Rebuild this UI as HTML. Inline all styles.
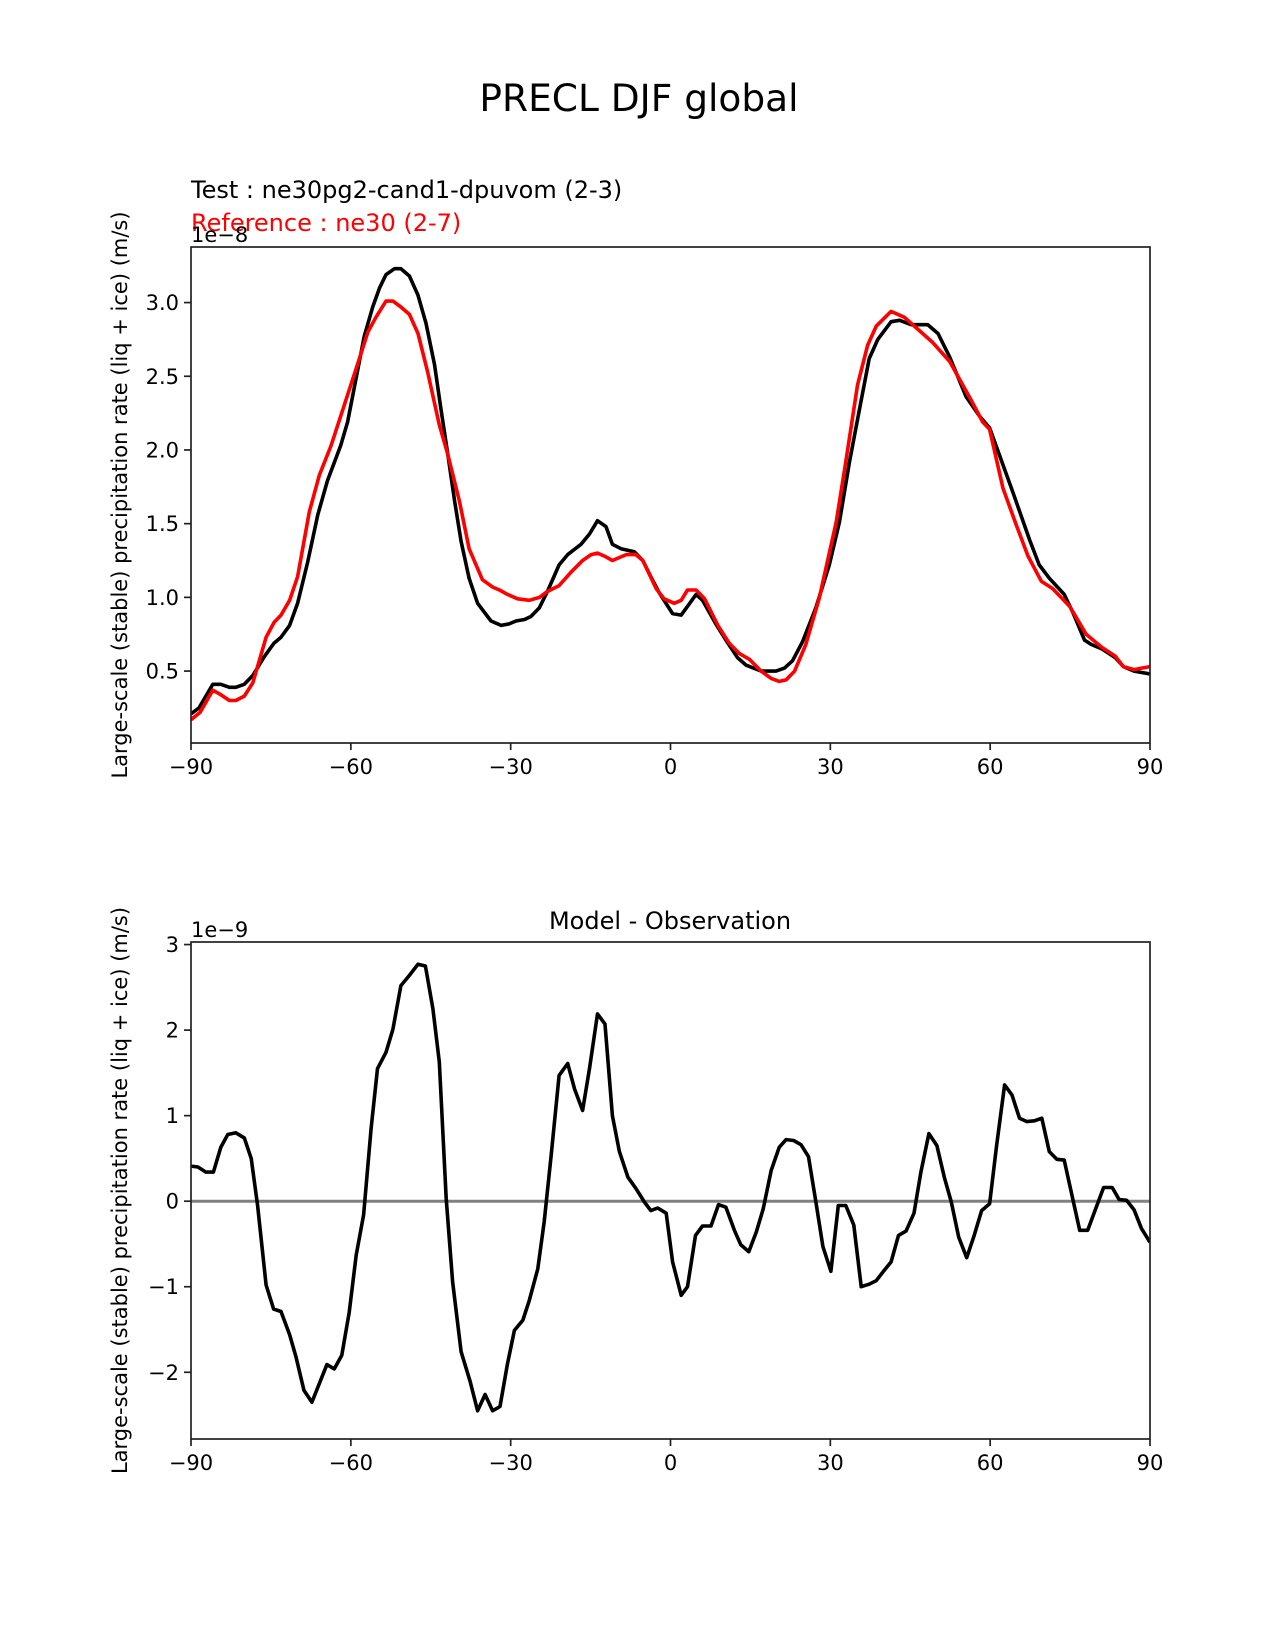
<!DOCTYPE html>
<html><head><meta charset="utf-8"><style>
html,body{margin:0;padding:0;background:#fff;}
svg{display:block;font-family:"DejaVu Sans","Liberation Sans",sans-serif;}
</style></head><body>
<svg id="fig" width="1275" height="1650" viewBox="0 0 1275 1650" xmlns="http://www.w3.org/2000/svg">
<rect width="1275" height="1650" fill="#fff"/>
<text x="639" y="111" font-size="37.5" text-anchor="middle">PRECL DJF global</text>
<text x="191" y="198" font-size="24">Test : ne30pg2-cand1-dpuvom (2-3)</text>
<text x="191" y="231" font-size="24" fill="#ff0000">Reference : ne30 (2-7)</text>
<text x="670" y="929" font-size="24" text-anchor="middle">Model - Observation</text>
<g id="top"></g>
<g id="bot"></g>
</svg>
<script>
const xTicks = [-90,-60,-30,0,30,60,90];
const topYTicks = [0.5,1.0,1.5,2.0,2.5,3.0];
const botYTicks = [-2,-1,0,1,2,3];
const testLat = [-90,-88.5,-85.9,-84.4,-82.8,-81.6,-80,-78.4,-76.2,-74.4,-73.1,-71.5,-70,-68.1,-66.2,-64.4,-61.9,-60.6,-59,-57.5,-55.9,-54.6,-53.4,-51.8,-50.6,-49,-47.4,-45.9,-44.3,-43.1,-41.8,-40.5,-39.3,-37.8,-36.2,-33.7,-31.8,-30.3,-29,-27.4,-26.2,-24.6,-23.1,-20.9,-19.3,-16.8,-15.2,-13.7,-12.1,-10.9,-9.3,-6.8,-5.2,-3.7,-2.1,0.4,2,4.8,6,8.5,10.4,12.6,14.2,17,19.8,21.4,22.9,24.8,27.3,29.8,31.7,33.6,35.5,37.3,38.9,41.4,43,45.2,48.3,50.2,52.4,55.5,58,59.9,61.7,64.2,67.4,69.2,71.1,73.9,75.5,77.7,79,81,83.5,85,87,90];
const testVal = [0.21,0.25,0.41,0.41,0.39,0.39,0.41,0.47,0.6,0.69,0.73,0.81,0.96,1.24,1.56,1.79,2.03,2.19,2.49,2.77,2.97,3.1,3.19,3.23,3.23,3.18,3.05,2.86,2.58,2.28,1.97,1.65,1.38,1.13,0.96,0.84,0.81,0.82,0.84,0.85,0.87,0.93,1.04,1.22,1.29,1.36,1.43,1.52,1.48,1.36,1.33,1.31,1.25,1.14,1.03,0.89,0.88,1.02,0.98,0.82,0.71,0.59,0.54,0.5,0.5,0.52,0.57,0.7,0.93,1.22,1.51,1.92,2.28,2.62,2.75,2.87,2.88,2.85,2.85,2.79,2.63,2.36,2.23,2.15,1.97,1.72,1.39,1.22,1.13,1.02,0.9,0.71,0.68,0.65,0.59,0.53,0.5,0.48];
const refLat = [-90,-88.3,-85.9,-84.4,-82.8,-81.6,-80,-78.4,-75.9,-74.4,-73.1,-71.5,-70,-67.8,-65.9,-63.7,-61.9,-60,-58.4,-56.8,-55.3,-53.4,-52.1,-50.6,-49,-47.4,-45.6,-43.4,-41.8,-39.6,-37.8,-35.3,-33.4,-32.1,-30.6,-28.7,-26.5,-24.6,-23.1,-20.9,-18.7,-16.5,-14.9,-13.7,-12.4,-10.9,-8.3,-6.5,-5.2,-2.7,-1.2,0.7,2,3.2,4.8,6.4,8.9,11,12.9,14.8,17,18.9,20.4,21.7,23.3,25.4,27.9,31.1,32.9,35.1,37,38.6,41.4,43.9,46.4,49.2,52.4,56.4,58.6,59.9,62.4,64.9,67.1,69.6,71.7,74.9,78,81,83.5,85,87,90];
const refVal = [0.17,0.22,0.37,0.34,0.3,0.3,0.33,0.42,0.73,0.83,0.88,0.98,1.14,1.58,1.83,2.03,2.23,2.44,2.62,2.8,2.9,3.01,3.01,2.97,2.92,2.79,2.53,2.17,1.97,1.65,1.33,1.12,1.07,1.05,1.02,0.99,0.98,1.0,1.04,1.08,1.17,1.25,1.29,1.3,1.28,1.25,1.29,1.29,1.25,1.06,0.99,0.96,0.98,1.05,1.05,0.99,0.81,0.69,0.62,0.58,0.5,0.45,0.43,0.44,0.5,0.68,0.99,1.51,1.92,2.44,2.71,2.84,2.94,2.9,2.82,2.73,2.6,2.34,2.19,2.14,1.74,1.49,1.28,1.11,1.06,0.94,0.75,0.66,0.6,0.53,0.51,0.53];
const diffLat = [-90,-88.7,-87.2,-85.8,-84.4,-83.1,-81.6,-80,-78.7,-77.5,-75.9,-74.5,-73.1,-71.5,-70.3,-68.8,-67.3,-64.5,-63.1,-61.7,-60.3,-59,-57.6,-56.2,-55,-53.4,-52.1,-50.6,-49,-47.4,-46,-44.6,-43.4,-42.1,-40.9,-39.3,-37.6,-36.2,-34.8,-33.4,-32,-30.6,-29.3,-27.7,-26.5,-24.9,-23.7,-22.4,-20.9,-19.3,-18,-16.5,-15.2,-13.7,-12.3,-10.9,-9.6,-8,-6.5,-4.9,-3.7,-2.4,-0.8,0.4,2,3.2,4.7,6,7.6,9,10.4,12,13.2,14.7,16.1,17.4,18.9,20.4,21.7,23.1,24.5,25.9,27.3,28.6,30.1,31.5,32.9,34.4,35.8,37.3,38.6,40.1,41.4,42.8,44.2,45.7,47,48.5,50,51.4,52.7,54.1,55.6,57,58.4,59.9,61.2,62.7,64.1,65.5,66.9,68.3,69.7,71.1,72.5,73.9,75.5,76.8,78.3,81.3,82.9,84.2,85.6,87,88.4,90];
const diffVal = [0.41,0.4,0.34,0.34,0.63,0.78,0.8,0.74,0.5,-0.05,-0.98,-1.26,-1.29,-1.56,-1.82,-2.21,-2.35,-1.91,-1.96,-1.8,-1.3,-0.63,-0.16,0.85,1.55,1.74,2.01,2.52,2.64,2.77,2.75,2.25,1.63,0.03,-0.94,-1.76,-2.11,-2.45,-2.26,-2.45,-2.4,-1.9,-1.51,-1.39,-1.16,-0.79,-0.24,0.54,1.47,1.61,1.31,1.06,1.55,2.19,2.07,1.0,0.58,0.28,0.15,-0.01,-0.11,-0.08,-0.14,-0.71,-1.1,-1.0,-0.4,-0.29,-0.29,-0.04,-0.07,-0.34,-0.51,-0.59,-0.36,-0.09,0.36,0.63,0.72,0.71,0.66,0.52,-0.01,-0.53,-0.82,-0.05,-0.05,-0.28,-1.0,-0.97,-0.93,-0.81,-0.71,-0.4,-0.35,-0.14,0.34,0.79,0.65,0.28,-0.01,-0.42,-0.66,-0.4,-0.11,-0.03,0.65,1.36,1.24,0.97,0.93,0.94,0.97,0.58,0.49,0.48,0.03,-0.34,-0.34,0.16,0.16,0.02,0.01,-0.1,-0.32,-0.48];

const NS = "http://www.w3.org/2000/svg";
function mk(parent, tag, attrs){const e=document.createElementNS(NS,tag);for(const k in attrs)e.setAttribute(k,attrs[k]);parent.appendChild(e);return e;}

function drawChart(g, box, yMin, yMax, yTicks, fmt, expo, series, zeroLine, ylabel){
  const xs = v => box.l + (v+90)/180*(box.r-box.l);
  const ys = v => box.b - (v-yMin)/(yMax-yMin)*(box.b-box.t);
  const defs = mk(g,'clipPath',{id:g.id+'-clip'});
  mk(defs,'rect',{x:box.l,y:box.t,width:box.r-box.l,height:box.b-box.t});
  const plot = mk(g,'g',{'clip-path':'url(#'+g.id+'-clip)'});
  if(zeroLine){
    const z = mk(plot,'line',{x1:box.l,x2:box.r,y1:ys(0),y2:ys(0),stroke:'#808080','stroke-width':3});
    
    
  }
  series.forEach(s=>{
    const d = s.lat.map((la,i)=>(i?'L':'M')+xs(la).toFixed(1)+','+ys(s.val[i]).toFixed(1)).join(' ');
    const p = mk(plot,'path',{d:d,fill:'none',stroke:s.color,'stroke-width':3.6,'stroke-linejoin':'round'});
    
    
  });
  const frame = mk(g,'rect',{x:box.l,y:box.t,width:box.r-box.l,height:box.b-box.t,fill:'none',stroke:'#222','stroke-width':1.7});
  
  
  xTicks.forEach(t=>{
    mk(g,'line',{x1:xs(t),x2:xs(t),y1:box.b,y2:box.b+7,stroke:'#222','stroke-width':1.7});
    const tx = mk(g,'text',{x:xs(t),y:box.b+31,'font-size':21,'text-anchor':'middle'});
    tx.textContent = t<0 ? '\u2212'+Math.abs(t) : String(t);
    
    
  });
  yTicks.forEach(t=>{
    mk(g,'line',{x1:box.l-7,x2:box.l,y1:ys(t),y2:ys(t),stroke:'#222','stroke-width':1.7});
    const tx = mk(g,'text',{x:box.l-12,y:ys(t)+7.5,'font-size':21,'text-anchor':'end'});
    tx.textContent = fmt(t);
    
    
  });
  const ex = mk(g,'text',{x:box.l,y:box.t-5,'font-size':21});
  ex.textContent = expo;
  
  
  const cy = (box.t+box.b)/2;
  const yl = mk(g,'text',{x:0,y:0,'font-size':21,'text-anchor':'middle',transform:'translate(127,'+cy+') rotate(-90)'});
  yl.textContent = ylabel;
  
  
}
const ylab = 'Large-scale (stable) precipitation rate (liq + ice) (m/s)';
drawChart(document.getElementById('top'), {l:191,r:1150,t:247,b:743}, 0.012, 3.377, topYTicks,
  t=>t.toFixed(1), '1e\u22128',
  [{lat:testLat,val:testVal,color:'#000',name:'test-line'},{lat:refLat,val:refVal,color:'#ff0000',name:'reference-line'}], false, ylab);
drawChart(document.getElementById('bot'), {l:191,r:1150,t:942,b:1439}, -2.78, 3.03, botYTicks,
  t=>t<0?'\u2212'+Math.abs(t):String(t), '1e\u22129',
  [{lat:diffLat,val:diffVal,color:'#000',name:'difference-line'}], true, ylab);
</script>
</body></html>
